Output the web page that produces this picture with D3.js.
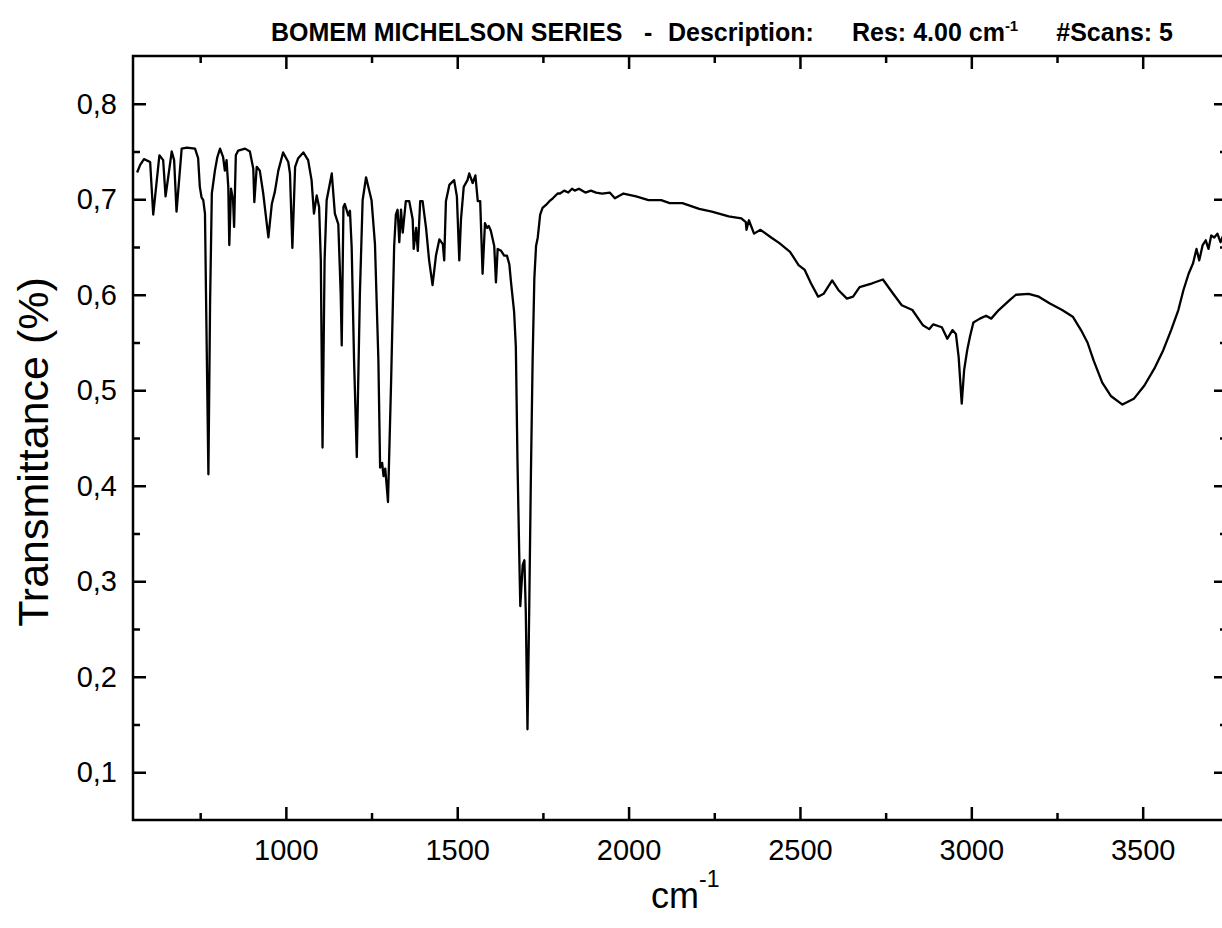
<!DOCTYPE html>
<html lang="en">
<head>
<meta charset="utf-8">
<title>BOMEM IR spectrum</title>
<script src="https://cdn.jsdelivr.net/npm/d3@7"></script>
<style>
  body { margin: 0; background: #fff; }
  svg { font-family: "Liberation Sans", Arial, sans-serif; }
</style>
</head>
<body>
<script>
// spectrum: wavenumber (cm-1) and transmittance
var wavenumber = [
  566, 575, 586, 604, 613, 631, 642, 649, 667, 674, 681, 696, 711, 735, 744, 749, 754, 759, 764, 767, 774,
  779, 784, 793, 800, 808, 817, 822, 827, 832, 835, 840, 846, 849, 854, 861, 881, 895, 905, 908, 915,
  924, 934, 949, 959, 968, 978, 992, 1007, 1012, 1019, 1027, 1036, 1051, 1065, 1075, 1082, 1090, 1097, 1102, 1107,
  1113, 1119, 1134, 1143, 1153, 1160, 1163, 1168, 1172, 1182, 1187, 1192, 1199, 1207, 1216, 1224, 1234, 1250, 1260, 1270,
  1275, 1281, 1285, 1290, 1293, 1298, 1307, 1316, 1321, 1326, 1331, 1336, 1341, 1350, 1360, 1370, 1373, 1380, 1385, 1392,
  1399, 1409, 1418, 1428, 1438, 1448, 1458, 1462, 1467, 1477, 1491, 1499, 1506, 1511, 1519, 1530, 1535, 1545, 1553, 1560,
  1567, 1574, 1581, 1587, 1592, 1598, 1608, 1613, 1618, 1628, 1637, 1645, 1652, 1657, 1666, 1671, 1676, 1681, 1684, 1691,
  1696, 1700, 1705, 1710, 1715, 1720, 1725, 1730, 1735, 1742, 1749, 1759, 1769, 1779, 1793, 1800, 1812, 1824, 1835, 1843,
  1855, 1874, 1890, 1905, 1923, 1945, 1960, 1985, 2022, 2058, 2095, 2120, 2157, 2206, 2243, 2292, 2329, 2342, 2344, 2351,
  2366, 2385, 2416, 2440, 2471, 2496, 2514, 2532, 2553, 2569, 2594, 2612, 2637, 2655, 2674, 2711, 2742, 2772, 2797, 2828,
  2859, 2877, 2889, 2914, 2930, 2945, 2955, 2963, 2972, 2979, 2988, 2996, 3006, 3025, 3043, 3058, 3080, 3111, 3130, 3167,
  3197, 3228, 3265, 3296, 3320, 3339, 3357, 3382, 3407, 3441, 3474, 3505, 3536, 3560, 3583, 3604, 3619, 3634, 3647, 3657,
  3665, 3675, 3684, 3692, 3700, 3709, 3718, 3727, 3735
];
var transmittance = [
  0.728, 0.736, 0.742, 0.739, 0.684, 0.746, 0.741, 0.703, 0.750, 0.741, 0.687, 0.753, 0.754, 0.753, 0.743, 0.713, 0.702, 0.699, 0.685, 0.601, 0.412,
  0.594, 0.706, 0.730, 0.744, 0.753, 0.744, 0.730, 0.741, 0.713, 0.652, 0.711, 0.699, 0.671, 0.746, 0.751, 0.753, 0.750, 0.732, 0.697, 0.734,
  0.730, 0.706, 0.660, 0.695, 0.708, 0.730, 0.749, 0.739, 0.727, 0.649, 0.734, 0.743, 0.749, 0.741, 0.720, 0.685, 0.704, 0.692, 0.636, 0.440,
  0.636, 0.699, 0.727, 0.685, 0.674, 0.601, 0.547, 0.692, 0.695, 0.683, 0.688, 0.650, 0.531, 0.430, 0.601, 0.699, 0.723, 0.699, 0.653, 0.531,
  0.419, 0.424, 0.410, 0.418, 0.405, 0.383, 0.508, 0.651, 0.684, 0.689, 0.655, 0.689, 0.665, 0.698, 0.698, 0.679, 0.648, 0.670, 0.646, 0.698,
  0.698, 0.670, 0.636, 0.610, 0.641, 0.658, 0.653, 0.636, 0.698, 0.715, 0.720, 0.703, 0.636, 0.679, 0.713, 0.720, 0.727, 0.717, 0.725, 0.698,
  0.698, 0.622, 0.675, 0.670, 0.672, 0.667, 0.651, 0.613, 0.648, 0.646, 0.641, 0.641, 0.632, 0.613, 0.582, 0.546, 0.422, 0.327, 0.274, 0.317,
  0.322, 0.269, 0.145, 0.269, 0.412, 0.532, 0.617, 0.651, 0.660, 0.684, 0.691, 0.694, 0.698, 0.701, 0.706, 0.706, 0.709, 0.707, 0.711, 0.709,
  0.711, 0.707, 0.709, 0.707, 0.706, 0.707, 0.701, 0.706, 0.703, 0.699, 0.699, 0.696, 0.696, 0.690, 0.687, 0.682, 0.680, 0.676, 0.668, 0.678,
  0.664, 0.668, 0.660, 0.654, 0.645, 0.631, 0.626, 0.612, 0.598, 0.601, 0.615, 0.605, 0.596, 0.598, 0.608, 0.612, 0.616, 0.601, 0.589, 0.584,
  0.568, 0.564, 0.569, 0.566, 0.554, 0.563, 0.559, 0.535, 0.486, 0.521, 0.542, 0.556, 0.571, 0.575, 0.578, 0.575, 0.584, 0.594, 0.600, 0.601,
  0.598, 0.591, 0.584, 0.577, 0.563, 0.550, 0.531, 0.508, 0.494, 0.485, 0.491, 0.505, 0.524, 0.542, 0.563, 0.584, 0.605, 0.622, 0.633, 0.648,
  0.636, 0.652, 0.657, 0.648, 0.662, 0.660, 0.664, 0.655, 0.662
];

var xMajorTicks = [1000, 1500, 2000, 2500, 3000, 3500];
var xMinorTicks = [750, 1250, 1750, 2250, 2750, 3250];
var yMajorTicks = [0.1, 0.2, 0.3, 0.4, 0.5, 0.6, 0.7, 0.8];
var yMinorTicks = [0.15, 0.25, 0.35, 0.45, 0.55, 0.65, 0.75];

var w = 1222, h = 928;
var plotLeft = 133, plotRight = 1227, plotTop = 56, plotBottom = 820;

var svg = d3.select("body").append("svg")
    .attr("width", w)
    .attr("height", h);

var x = d3.scaleLinear().domain([554, 3746]).range([plotLeft, plotRight]);
var y = d3.scaleLinear().domain([0.05, 0.85]).range([plotBottom, plotTop]);

var fmt = function(d) { return d3.format(".1f")(d).replace(".", ","); };

// ticks, all pointing into the plot
function tickAxis(axis, pos, values, size, labels, pad) {
  var g = svg.append("g").attr("transform", pos)
    .call(axis.tickValues(values).tickSizeInner(-size).tickSizeOuter(0)
      .tickPadding(pad || 0)
      .tickFormat(labels || (function() { return ""; })));
  g.select(".domain").remove();
  g.selectAll("line").attr("stroke", "#000").attr("stroke-width", 2.5);
  g.selectAll("text").attr("fill", "#000").attr("font-size", 29);
  return g;
}

tickAxis(d3.axisBottom(x), "translate(0," + plotBottom + ")", xMajorTicks, 13, d3.format("d"), 19);
tickAxis(d3.axisBottom(x), "translate(0," + plotBottom + ")", xMinorTicks, 7);
tickAxis(d3.axisTop(x), "translate(0," + plotTop + ")", xMajorTicks, 13);
tickAxis(d3.axisTop(x), "translate(0," + plotTop + ")", xMinorTicks, 7);
tickAxis(d3.axisLeft(y), "translate(" + plotLeft + ",0)", yMajorTicks, 13, fmt, 16);
tickAxis(d3.axisLeft(y), "translate(" + plotLeft + ",0)", yMinorTicks, 7);
tickAxis(d3.axisRight(y), "translate(" + plotRight + ",0)", yMajorTicks, 13);
tickAxis(d3.axisRight(y), "translate(" + plotRight + ",0)", yMinorTicks, 7);

// frame
svg.append("rect")
    .attr("x", plotLeft).attr("y", plotTop)
    .attr("width", plotRight - plotLeft).attr("height", plotBottom - plotTop)
    .attr("fill", "none").attr("stroke", "#000").attr("stroke-width", 2.5);

// spectrum
var line = d3.line()
    .x(function(d, i) { return x(wavenumber[i]); })
    .y(function(d) { return y(d); });

svg.append("path")
    .datum(transmittance)
    .attr("d", line)
    .attr("fill", "none")
    .attr("stroke", "#000")
    .attr("stroke-width", 2.3)
    .attr("stroke-linejoin", "round");

// title
var title = svg.append("text")
    .attr("y", 41)
    .attr("font-size", 25)
    .attr("font-weight", "bold")
    .attr("fill", "#000");
title.append("tspan").attr("x", 271).text("BOMEM MICHELSON SERIES");
title.append("tspan").attr("x", 644).text("-");
title.append("tspan").attr("x", 668).text("Description:");
title.append("tspan").attr("x", 852).text("Res: 4.00 cm");
title.append("tspan").attr("dy", -10).attr("font-size", 15).text("-1");
title.append("tspan").attr("x", 1173).attr("dy", 10).attr("text-anchor", "end").text("#Scans: 5");

// axis labels
svg.append("text")
    .attr("transform", "translate(48," + ((plotTop + plotBottom) / 2 + 14) + ") rotate(-90)")
    .attr("text-anchor", "middle")
    .attr("font-size", 43)
    .attr("fill", "#000")
    .text("Transmittance (%)");

var xl = svg.append("text")
    .attr("x", 651).attr("y", 908)
    .attr("font-size", 36)
    .attr("fill", "#000");
xl.append("tspan").text("cm");
xl.append("tspan").attr("dy", -21).attr("font-size", 23).text("-1");
</script>
</body>
</html>
